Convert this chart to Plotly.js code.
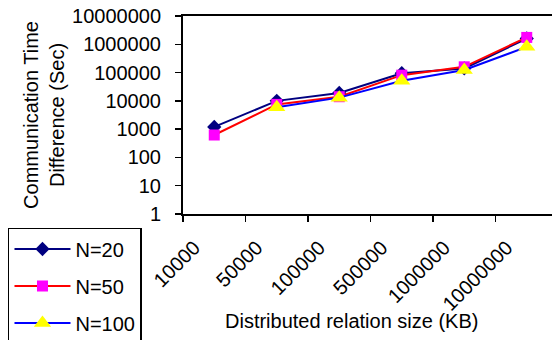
<!DOCTYPE html>
<html>
<head>
<meta charset="utf-8">
<script src="https://cdn.plot.ly/plotly-3.0.1.min.js"></script>
<style>
html,body{margin:0;padding:0;background:#fff;overflow:hidden;width:552px;height:340px;}
#wrap{width:552px;height:340px;overflow:hidden;position:relative;}
#chart{width:560px;height:360px;position:absolute;left:0;top:0;}
</style>
</head>
<body>
<div id="wrap"><div id="chart"></div></div>
<script>
// Data
const sizes = ["10000", "50000", "100000", "500000", "1000000", "10000000"];
const n20  = [1200, 10000, 19000, 95000, 140000, 1600000];
const n50  = [620, 7500, 14000, 81000, 160000, 1750000];
const n100 = [null, 5900, 13000, 51000, 123000, 810000];
const seriesNames = ["N=20", "N=50", "N=100"];
const yTickVals = [1, 10, 100, 1000, 10000, 100000, 1000000, 10000000];
const yTickText = ["1", "10", "100", "1000", "10000", "100000", "1000000", "10000000"];

const FONT = "Arial, 'Liberation Sans', sans-serif";

const traces = [
  {x: sizes, y: n20, name: seriesNames[0], type: "scatter", mode: "lines+markers",
   line: {color: "#000080", width: 2},
   marker: {symbol: "diamond", size: 11, color: "#000080"},
   legendgroup: "a"},
  {x: sizes, y: n50, name: seriesNames[1], type: "scatter", mode: "lines+markers",
   line: {color: "#FF0000", width: 2},
   marker: {symbol: "square", size: 11, color: "#FF00FF"},
   legendgroup: "b"},
  {x: sizes, y: n100, name: seriesNames[2], type: "scatter", mode: "lines+markers",
   line: {color: "#0000FF", width: 2},
   marker: {symbol: "triangle-up", size: 15, color: "#FFFF00"},
   legendgroup: "c"}
];

const layout = {
  width: 560, height: 360,
  margin: {l: 183, r: 2, t: 16, b: 146, pad: 0},
  paper_bgcolor: "#ffffff",
  plot_bgcolor: "#ffffff",
  font: {family: FONT, size: 20, color: "#000000"},
  showlegend: true,
  legend: {
    x: -0.4667, y: -0.0707, xanchor: "left", yanchor: "top",
    bordercolor: "#000000", borderwidth: 1.5, bgcolor: "#ffffff",
    font: {family: FONT, size: 20, color: "#000"},
    traceorder: "grouped", tracegroupgap: 8,
    itemwidth: 56
  },
  xaxis: {
    type: "category",
    range: [-0.5, 5.5],
    showgrid: false, zeroline: false,
    showline: true, linecolor: "#000", linewidth: 2, mirror: true,
    ticks: "outside", ticklen: 6, tickcolor: "#000", tickwidth: 1.5,
    tickson: "boundaries",
    tickangle: -45,
    ticklabelstandoff: 12,
    ticklabelshift: -20,
    tickfont: {family: FONT, size: 20, color: "#000"}
  },
  yaxis: {
    type: "log",
    range: [0, 7],
    showgrid: false, zeroline: false,
    showline: true, linecolor: "#000", linewidth: 2, mirror: false,
    ticks: "outside", ticklen: 6, tickcolor: "#000", tickwidth: 1.5,
    tickvals: yTickVals, ticktext: yTickText,
    ticklabelstandoff: 10,
    tickfont: {family: FONT, size: 20, color: "#000"},
    title: {text: "Communication Time<br>Difference (Sec)", standoff: 2,
            font: {family: FONT, size: 20, color: "#000"}}
  },
  annotations: [{
    text: "Distributed relation size (KB)",
    xref: "paper", yref: "paper",
    x: 0.448, y: -0.54,
    xanchor: "center", yanchor: "middle",
    showarrow: false,
    font: {family: FONT, size: 20, color: "#000"}
  }]
};

Plotly.newPlot("chart", traces, layout, {displayModeBar: false, staticPlot: true});
</script>
</body>
</html>
